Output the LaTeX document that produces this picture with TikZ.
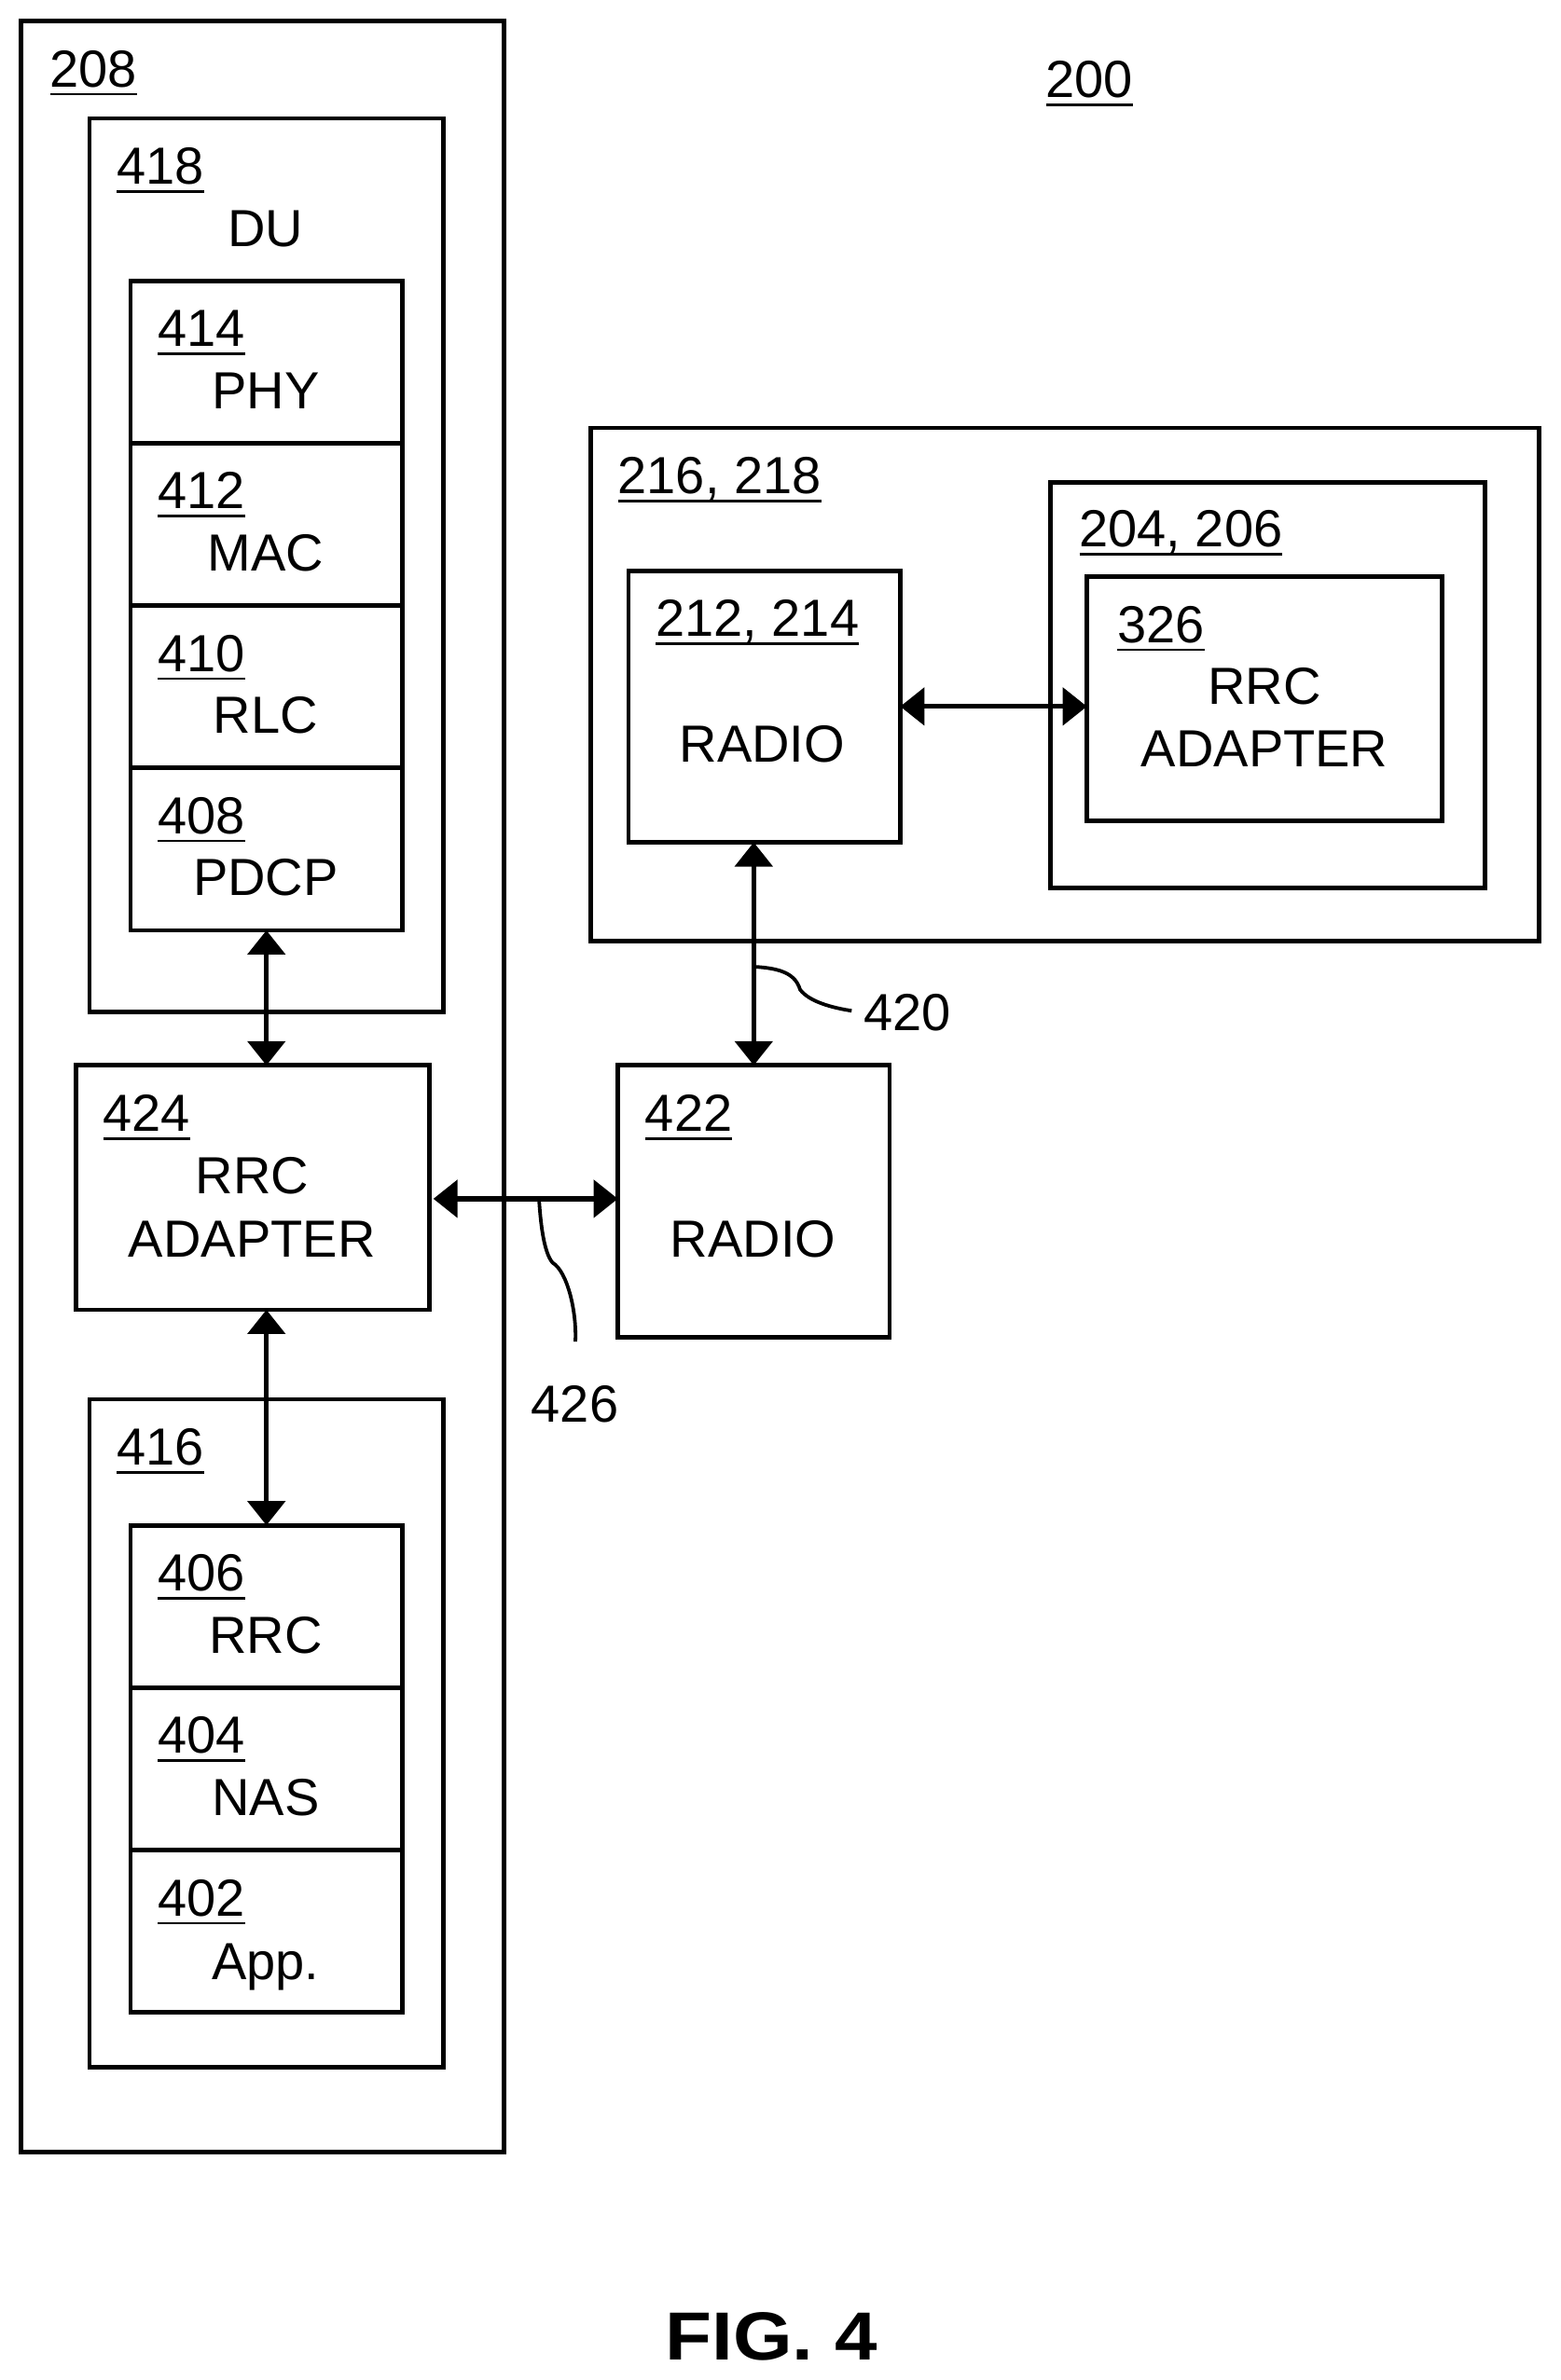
\documentclass[tikz,border=0pt]{standalone}
\usepackage{fontspec}
\setmainfont{Liberation Sans}
\newfontfamily\figfont[FakeStretch=1.12]{Liberation Sans}
\usetikzlibrary{arrows.meta,fit}
\newcommand{\ulab}[1]{\leavevmode\setbox0=\hbox{#1}\rlap{\raisebox{-4.6pt}{\rule{\wd0}{1.3pt}}}\box0 }
\tikzset{
  bx/.style={draw=black,line width=2.4pt,inner sep=0pt,outer sep=0pt,fill=none,rectangle,line join=miter},
  numlab/.style={inner sep=0pt,outer sep=0pt,anchor=base west,yshift=-10pt,font=\fontsize{28}{30}\selectfont},
  txtlab/.style={inner sep=0pt,outer sep=0pt,anchor=base,yshift=-10pt,font=\fontsize{28}{30}\selectfont},
  dbl/.style={draw=black,line width=2.6pt,{Stealth[length=13pt,width=20pt,inset=0pt]}-{Stealth[length=13pt,width=20pt,inset=0pt]}},
  leader/.style={draw=black,line width=1.9pt},
}
\begin{document}
\begin{tikzpicture}[x=0.814pt,y=-0.814pt]
\useasboundingbox (0,0) rectangle (1028.25,1568.2);
% boxes
\node[bx,fit={(14,14) (332,1418)}] (b208) {};
\node[bx,fit={(59,78) (292,667)}] (b418) {};
\node[bx,fit={(86,185) (265,292)}] (b414) {};
\node[bx,fit={(86,292) (265,399)}] (b412) {};
\node[bx,fit={(86,399) (265,506)}] (b410) {};
\node[bx,fit={(86,506) (265,613)}] (b408) {};
\node[bx,fit={(50,702) (283,863)}] (b424) {};
\node[bx,fit={(59,922) (292,1362)}] (b416) {};
\node[bx,fit={(86,1005) (265,1112)}] (b406) {};
\node[bx,fit={(86,1112) (265,1219)}] (b404) {};
\node[bx,fit={(86,1219) (265,1326)}] (b402) {};
\node[bx,fit={(389,282) (1014,620)}] (b216) {};
\node[bx,fit={(414,376) (593,555)}] (b212) {};
\node[bx,fit={(692,318) (978,585)}] (b204) {};
\node[bx,fit={(716,380) (950,541)}] (b326) {};
\node[bx,fit={(407,702) (586,881)}] (b422) {};
% numbers
\node[numlab] (n208) at (33,45) {\ulab{208}};
\node[numlab] (n200) at (689,52) {\ulab{200}};
\node[numlab] (n418) at (77,109) {\ulab{418}};
\node[numlab] (n414) at (104,216) {\ulab{414}};
\node[numlab] (n412) at (104,323) {\ulab{412}};
\node[numlab] (n410) at (104,430) {\ulab{410}};
\node[numlab] (n408) at (104,537) {\ulab{408}};
\node[numlab] (n424) at (68,733) {\ulab{424}};
\node[numlab] (n416) at (77,953) {\ulab{416}};
\node[numlab] (n406) at (104,1036) {\ulab{406}};
\node[numlab] (n404) at (104,1143) {\ulab{404}};
\node[numlab] (n402) at (104,1250) {\ulab{402}};
\node[numlab] (n216) at (407,313) {\ulab{216, 218}};
\node[numlab] (n204) at (711,348) {\ulab{204, 206}};
\node[numlab] (n326) at (736,411) {\ulab{326}};
\node[numlab] (n212) at (432,407) {\ulab{212, 214}};
\node[numlab] (n422) at (425,733) {\ulab{422}};
\node[numlab] (n420) at (569,667) {420};
\node[numlab] (n426) at (350,925) {426};
% texts
\node[txtlab] (tdu) at (175,150) {DU};
\node[txtlab] (tphy) at (175,257) {PHY};
\node[txtlab] (tmac) at (175,364) {MAC};
\node[txtlab] (trlc) at (175,471) {RLC};
\node[txtlab] (tpdcp) at (175,578) {PDCP};
\node[txtlab] (trrca) at (166,774) {RRC};
\node[txtlab] (tada) at (166,816) {ADAPTER};
\node[txtlab] (trrc) at (175,1077) {RRC};
\node[txtlab] (tnas) at (175,1184) {NAS};
\node[txtlab] (tapp) at (175,1292) {App.};
\node[txtlab] (trrcb) at (833,452) {RRC};
\node[txtlab] (tadb) at (833,493) {ADAPTER};
\node[txtlab] (trad) at (502,490) {RADIO};
\node[txtlab] (trade) at (496,816) {RADIO};
\node[inner sep=0pt,outer sep=0pt,anchor=base,font=\figfont\bfseries\fontsize{36.5}{38}\selectfont] (tfig) at (508,1555) {FIG. 4};
% connectors
\draw[dbl] (b408.south) -- (b408.south |- b424.north);
\draw[dbl] (b406.north) -- (b406.north |- b424.south);
\draw[dbl] (b212.east) -- (b212.east -| b326.west);
\draw[dbl] (b422.north) -- (b422.north |- b212.south);
\coordinate (cl) at ([xshift=2pt,yshift=-6pt]b424.east);
\draw[dbl] (cl) -- (cl -| b422.west);
% leaders
\coordinate (l420a) at (497,637);
\coordinate (l420e) at (561,666);
\draw[leader] (l420a) .. controls (515,638) and (524,642) .. (527,652) .. controls (533,660) and (548,664) .. (l420e);
\coordinate (l426a) at (355,789);
\coordinate (l426e) at (379,884);
\draw[leader] (l426a) .. controls (356,805) and (358,825) .. (364,832) .. controls (374,838) and (380,865) .. (l426e);
\end{tikzpicture}
\end{document}
